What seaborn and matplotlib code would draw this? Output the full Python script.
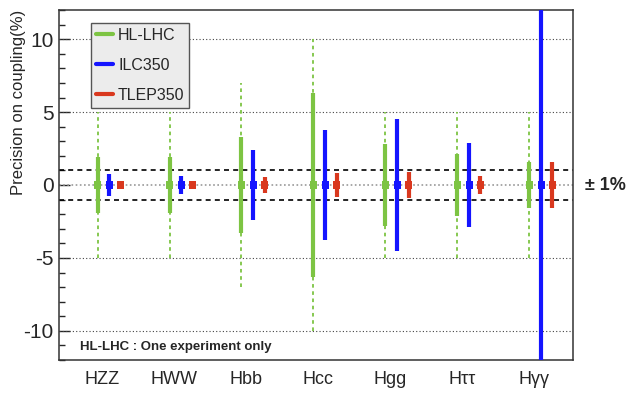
import numpy as np
import pandas as pd
import matplotlib
matplotlib.use("Agg")
import matplotlib.pyplot as plt
from matplotlib.lines import Line2D
from matplotlib.ticker import MultipleLocator
import seaborn as sns

# coupling channels and precision (%)
channels = ["HZZ", "HWW", "Hbb", "Hcc", "Hgg", "H\u03c4\u03c4", "H\u03b3\u03b3"]
hllhc = [1.9, 1.9, 3.3, 6.3, 2.8, 2.1, 1.6]
hllhc_range = [5, 5, 7, 10, 5, 5, 5]   # dashed extent (conservative scenario)
ilc350 = [0.75, 0.6, 2.4, 3.8, 4.5, 2.9, 15.0]
tlep350 = [0.16, 0.15, 0.55, 0.8, 0.9, 0.64, 1.6]

experiments = ["HL-LHC", "ILC350", "TLEP350"]
colors = {"HL-LHC": "#7dc443", "ILC350": "#1414ff", "TLEP350": "#d9381e"}
offsets = {"HL-LHC": -0.065, "ILC350": 0.10, "TLEP350": 0.255}

rows = []
for i, ch in enumerate(channels):
    for exp, vals in zip(experiments, [hllhc, ilc350, tlep350]):
        rows.append({"channel": ch, "exp": exp, "x": i + offsets[exp], "err": vals[i]})
df = pd.DataFrame(rows)

sns.set_style("white")
plt.rcParams["font.family"] = ["Liberation Sans", "DejaVu Sans"]
plt.rcParams["axes.unicode_minus"] = False

fig = plt.figure(figsize=(6.32, 3.94), dpi=100)
ax = fig.add_axes([59 / 632, 1 - 360 / 394, 514 / 632, 350 / 394])

# reference lines
for y in [-10, -5, 5, 10]:
    ax.axhline(y, color="#444444", ls=(0, (1, 2)), lw=0.8, zorder=1)
ax.axhline(0, color="#999999", ls=(0, (1, 1.5)), lw=1.2, zorder=1)
for y in [-1, 1]:
    ax.axhline(y, color="black", ls=(0, (3, 2.5)), lw=1.2, zorder=1)

# HL-LHC extended range (dashed)
xg = df[df.exp == "HL-LHC"]["x"].values
rng = np.array(hllhc_range)
ax.vlines(xg, -rng, rng, color=colors["HL-LHC"], ls=(0, (2, 2)), lw=1.3, zorder=2)

# error bars
for exp in experiments:
    sub = df[df.exp == exp]
    ax.vlines(sub["x"], -sub["err"], sub["err"], color=colors[exp], lw=3.0, zorder=3)

sns.scatterplot(data=df.assign(c=0.0), x="x", y="c", hue="exp", palette=colors,
                marker="s", s=30, linewidth=0, legend=False, ax=ax, zorder=4)

ax.set_xlim(-0.60, 6.54)
ax.set_ylim(-12, 12)
ax.set_xticks(range(len(channels)))
ax.set_xticklabels(channels, fontsize=13)
ax.tick_params(axis="x", length=0, pad=8)
ax.yaxis.set_major_locator(MultipleLocator(5))
ax.yaxis.set_minor_locator(MultipleLocator(1))
ax.tick_params(axis="y", which="major", direction="in", length=8, width=1,
               labelsize=15, pad=4, left=True, right=False)
ax.tick_params(axis="y", which="minor", direction="in", length=4.5, width=1,
               left=True, right=False)
ax.set_xlabel("")
ax.set_ylabel("")
for sp in ax.spines.values():
    sp.set_color("#333333")
    sp.set_linewidth(1.1)

ax.text(-0.078, 1.0, "Precision on coupling(%)", transform=ax.transAxes,
        rotation=90, ha="center", va="top", fontsize=12)
ax.text(0.041, 0.037, "HL-LHC : One experiment only", transform=ax.transAxes,
        ha="left", va="center", fontsize=9.5, fontweight="bold")
ax.text(1.023, 0.5, "\u00b1 1%", transform=ax.transAxes, ha="left", va="center",
        fontsize=13, fontweight="bold")

handles = [Line2D([0], [0], color=colors[e], lw=3) for e in experiments]
leg = ax.legend(handles, experiments, loc="upper left", bbox_to_anchor=(0.062, 0.963),
                borderaxespad=0, fontsize=11.5, handlelength=1.1, handletextpad=0.3,
                labelspacing=0.95, borderpad=0.3, fancybox=False, framealpha=1,
                facecolor="#ececec", edgecolor="#555555")
leg.get_frame().set_linewidth(1.0)
leg.set_zorder(5)

fig.savefig("out.png", dpi=100)
